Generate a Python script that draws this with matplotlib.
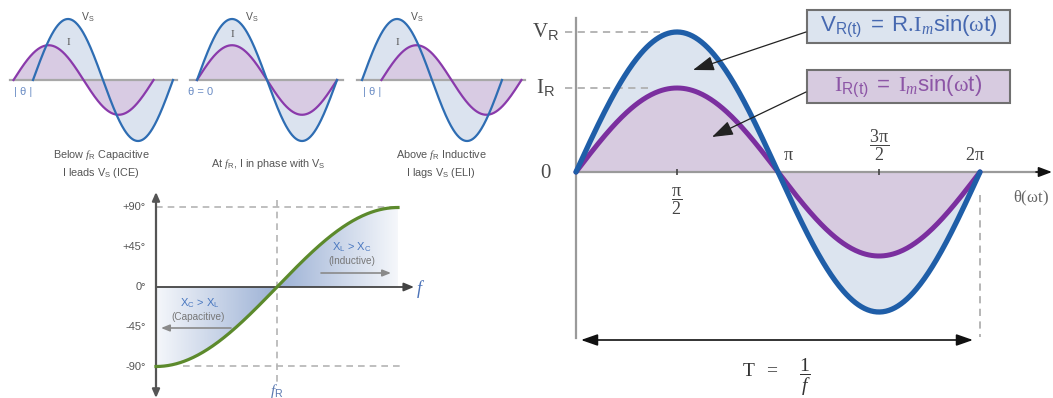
import numpy as np
import matplotlib
matplotlib.use('Agg')
import matplotlib.pyplot as plt
from matplotlib.patches import Rectangle
from matplotlib.colors import LinearSegmentedColormap

plt.rcParams['font.family'] = ['Liberation Sans', 'DejaVu Sans']
plt.rcParams['mathtext.fontset'] = 'custom'
plt.rcParams['mathtext.rm'] = 'Liberation Serif'
plt.rcParams['mathtext.it'] = 'Liberation Serif:italic'
plt.rcParams['mathtext.bf'] = 'Liberation Serif:bold'
plt.rcParams['mathtext.sf'] = 'Liberation Sans'
plt.rcParams['mathtext.fallback'] = 'stix'

W, H = 1053, 398

# pure resistance: V and I in phase, amplitudes relative to V_R
v_peak = 1.0
i_peak = 0.6
theta_ticks = [np.pi / 2, 3 * np.pi / 2]
theta_labels = [r'$\dfrac{\mathrm{\pi}}{\mathrm{2}}$', r'$\mathrm{\pi}$',
                r'$\dfrac{\mathrm{3\pi}}{\mathrm{2}}$', r'$\mathrm{2\pi}$']
theta_label_at = [np.pi / 2, np.pi, 3 * np.pi / 2, 2 * np.pi]

# series RLC below / at / above resonance: phase of I against V_S (deg, + = leads)
panel_phase = [50, 0, -50]
panel_v_amp = 1.0
panel_i_amp = 0.57
panel_theta_text = ['| θ |', 'θ = 0', '| θ |']
panel_captions = [
    'Below $\\mathit{f}_{\\mathsf{R}}$ Capacitive\nI leads V$_{\\mathsf{S}}$ (ICE)',
    'At $\\mathit{f}_{\\mathsf{R}}$, I in phase with V$_{\\mathsf{S}}$',
    'Above $\\mathit{f}_{\\mathsf{R}}$ Inductive\nI lags V$_{\\mathsf{S}}$ (ELI)',
]

# phase angle against frequency
phase_ticks = [90, 45, 0, -45, -90]
phase_tick_labels = ['+90°', '+45°', '0°', '-45°', '-90°']

V_LINE, V_FILL = '#1f5ea8', '#dce4ef'
I_LINE, I_FILL = '#7b2f9f', '#d7cbe0'
GREY = '#9a9a9a'

fig = plt.figure(figsize=(W / 100, H / 100), dpi=100)


def place(rect, ox, oy, sx, sy):
    """Axes over a pixel rectangle; (ox, oy) pixel of the data origin."""
    x0, y0, x1, y1 = rect
    ax = fig.add_axes([x0 / W, 1 - y1 / H, (x1 - x0) / W, (y1 - y0) / H])
    ax.set_axis_off()
    ax.set_xlim((x0 - ox) / sx, (x1 - ox) / sx)
    ax.set_ylim((oy - y1) / sy, (oy - y0) / sy)
    return ax, (lambda px, py: ((px - ox) / sx, (oy - py) / sy))


# ---------------- main waveform ----------------
ax, P = place((530, 0, 1053, 398), 576, 172, 404 / (2 * np.pi), 140)
th = np.linspace(0, 2 * np.pi, 400)
v = v_peak * np.sin(th)
i = i_peak * np.sin(th)
ax.fill_between(th, v, 0, color=V_FILL, lw=0, zorder=1)
ax.fill_between(th, i, 0, color=I_FILL, lw=0, zorder=1.5)
ax.plot(th, i, color=I_LINE, lw=3.6, solid_capstyle='round', zorder=4)
ax.plot(th, v, color=V_LINE, lw=3.8, solid_capstyle='round', zorder=5)

# axes
ax.plot([0, 0], [P(0, 18)[1], P(0, 338)[1]], color=GREY, lw=1.6, zorder=2)
ax.plot([0, P(1040, 0)[0]], [0, 0], color=GREY, lw=1.6, zorder=2)
ax.annotate('', xy=(P(1052, 0)[0], 0), xytext=(P(1036, 0)[0], 0),
            arrowprops=dict(arrowstyle='-|>,head_length=0.8,head_width=0.3',
                            color='#111', lw=1.2, shrinkA=0, shrinkB=0),
            annotation_clip=False)
ax.plot(theta_ticks, [0] * len(theta_ticks), ls='none', marker='|', ms=5,
        mew=1.2, color='#444', zorder=3)

# peak markers
ax.plot([P(565, 0)[0], P(660, 0)[0]], [v_peak, v_peak], color='#b0b0b0',
        lw=1.3, ls=(0, (4, 3)), zorder=2)
ax.plot([P(565, 0)[0], P(648, 0)[0]], [i_peak, i_peak], color='#b0b0b0',
        lw=1.3, ls=(0, (4, 3)), zorder=2)
lx = P(546, 0)[0]
ax.text(lx, v_peak, r'$\mathrm{V}_{\mathsf{R}}$', fontsize=15, color='#4a4a4a',
        ha='center', va='center')
ax.text(lx, i_peak, r'$\mathrm{I}_{\mathsf{R}}$', fontsize=15, color='#4a4a4a',
        ha='center', va='center')
ax.text(lx, 0, r'$\mathrm{0}$', fontsize=15, color='#4a4a4a',
        ha='center', va='center')

# theta labels
lab_dx = [0, 0.17, 0, -0.08]
lab_y = [-0.205, 0.115, 0.195, 0.12]
for t, s, dx, y in zip(theta_label_at, theta_labels, lab_dx, lab_y):
    ax.text(t + dx, y, s, fontsize=13, color='#444', ha='center', va='center')
ax.text(*P(1031, 198), r'$\mathrm{\theta(\omega t)}$', fontsize=12,
        color='#666', ha='center', va='center')

# period
ax.plot([2 * np.pi, 2 * np.pi], [P(0, 195)[1], P(0, 337)[1]], color='#b0b0b0',
        lw=1.3, ls=(0, (4, 3)), zorder=2)
ax.annotate('', xy=P(973, 340), xytext=P(581, 340),
            arrowprops=dict(arrowstyle='<|-|>,head_length=1.0,head_width=0.35',
                            color='#111', lw=1.2, shrinkA=0, shrinkB=0))
ax.text(*P(760, 372), r'$\mathrm{T\ \ =}$', fontsize=14, color='#333',
        ha='center', va='center')
ax.text(*P(805, 377), r'$\dfrac{\mathrm{1}}{f}$', fontsize=14, color='#333',
        ha='center', va='center')

# equation boxes
bx0, bx1 = P(807, 0)[0], P(1010, 0)[0]
for top, bot, fill, tcol, s in [
        (10, 43, V_FILL, '#4668b0',
         r'$\mathsf{V}_{\mathsf{R(t)}}\ \mathsf{=}\ \mathsf{R}.\!\mathrm{I}_{\mathit{m}}'
         r'\mathsf{sin(}\mathrm{\omega}\mathsf{t)}$'),
        (70, 103, I_FILL, '#8c55a6',
         r'$\mathrm{I}_{\mathsf{R(t)}}\ \mathsf{=}\ \mathrm{I}_{\mathit{m}}'
         r'\mathsf{sin(}\mathrm{\omega}\mathsf{t)}$')]:
    y0, y1 = P(0, bot)[1], P(0, top)[1]
    ax.add_patch(Rectangle((bx0, y0), bx1 - bx0, y1 - y0, facecolor=fill,
                           edgecolor='#707070', lw=1.5, zorder=6))
    ax.text((bx0 + bx1) / 2, (y0 + y1) / 2, s, fontsize=16, color=tcol,
            ha='center', va='center', zorder=7)

for start, end in [((806, 32), (693, 70)), ((806, 92), (712, 137))]:
    ax.annotate('', xy=P(*end), xytext=P(*start),
                arrowprops=dict(arrowstyle='-|>,head_length=1.3,head_width=0.45',
                                color='#222', lw=0.9, shrinkA=0, shrinkB=0),
                zorder=8)

# ---------------- three phase panels ----------------
panel_rect = [(0, 0, 180, 185), (178, 0, 350, 185), (348, 0, 530, 185)]
panel_origin = [33, 197, 362]
panel_axis = [(10, 177), (190, 343), (357, 525)]
panel_i_label_y = [0.61, 0.74, 0.61]
panel_theta_x = [None, 0.18, None]
panel_caption_x = [101, 268, 441]

for k in range(3):
    ox = panel_origin[k]
    pax, Q = place(panel_rect[k], ox, 80, 140 / (2 * np.pi), 61)
    phi = np.radians(panel_phase[k])
    tv = np.linspace(0, 2 * np.pi, 300)
    ti = np.linspace(-phi, 2 * np.pi - phi, 300)
    vv = panel_v_amp * np.sin(tv)
    ii = panel_i_amp * np.sin(ti + phi)
    pax.fill_between(tv, vv, 0, color='#dbe3ef', lw=0, zorder=1)
    pax.fill_between(ti, ii, 0, color='#d8cbe3', lw=0, zorder=1.5)
    a0, a1 = panel_axis[k]
    pax.plot([Q(a0, 0)[0], Q(a1, 0)[0]], [0, 0], color='#a8a8a8', lw=1.6,
             zorder=2)
    pax.plot(ti, ii, color='#8a3aab', lw=1.6, zorder=3)
    pax.plot(tv, vv, color='#2e6db3', lw=1.6, zorder=4)

    pax.text(np.pi / 2 + 0.9, 1.03, r'V$_{\mathsf{S}}$', fontsize=7.5,
             color='#555', ha='center', va='center')
    pax.text(np.pi / 2, panel_i_label_y[k], 'I', fontsize=8,
             family='Liberation Serif', color='#555', ha='center', va='center')
    tx = -phi / 2 if panel_theta_x[k] is None else panel_theta_x[k]
    pax.text(tx, -0.2, panel_theta_text[k], fontsize=8, color='#6a8cc4',
             ha='center', va='center')
    pax.text(Q(panel_caption_x[k], 0)[0], Q(0, 164)[1], panel_captions[k],
             fontsize=7.8, color='#555', ha='center', va='center',
             linespacing=1.3)

# ---------------- phase response ----------------
bax, R = place((100, 190, 440, 398), 277, 287, 121, 79.5 / 90)
t = np.linspace(-1, 1, 300)
phase = 90 * np.sin(np.pi / 2 * t)

shade = LinearSegmentedColormap.from_list('shade', ['#ffffff', '#9cb1d5'])
for sel, ext in [(t >= 0, (0, 1, 0, 90)), (t <= 0, (-1, 0, -90, 0))]:
    poly = bax.fill_between(t[sel], phase[sel], 0, facecolor='none',
                            edgecolor='none')
    g = np.linspace(ext[0], ext[1], 200)
    img = bax.imshow(np.tile(1 - np.abs(g), (2, 1)) * 0.9 + 0.1, cmap=shade,
                     vmin=0, vmax=1, extent=ext, aspect='auto',
                     origin='lower', zorder=1)
    img.set_clip_path(poly.get_paths()[0], transform=bax.transData)

bax.set_xlim(R(100, 0)[0], R(440, 0)[0])
bax.set_ylim(R(0, 398)[1], R(0, 190)[1])

dash = dict(color='#b4b4b4', lw=1.2, ls=(0, (4, 3)), zorder=2)
bax.plot([-1, 1], [90, 90], **dash)
bax.plot([R(183, 0)[0], R(403, 0)[0]], [-90, -90], **dash)
bax.plot([0, 0], [R(0, 200)[1], R(0, 383)[1]], **dash)

bax.annotate('', xy=(R(414, 0)[0], 0), xytext=(-1, 0),
             arrowprops=dict(arrowstyle='-|>,head_length=0.6,head_width=0.25',
                             color='#444', lw=1.3, shrinkA=0, shrinkB=0),
             zorder=3)
bax.annotate('', xy=(-1, R(0, 192)[1]), xytext=(-1, R(0, 398)[1]),
             arrowprops=dict(arrowstyle='<|-|>,head_length=0.5,head_width=0.22',
                             color='#555', lw=1.6, shrinkA=0, shrinkB=0),
             zorder=3)
bax.plot(t, phase, color='#5c8a2c', lw=2.3, zorder=4)

for val, lab in zip(phase_ticks, phase_tick_labels):
    bax.text(R(146, 0)[0], val, lab, fontsize=8, color='#555', ha='right',
             va='center')
bax.text(*R(421, 289), r'$f$', fontsize=13, color='#4b72b8', ha='center',
         va='center')
bax.text(*R(277, 391), r'$f_{\mathsf{R}}$', fontsize=11, color='#5a78b0',
         ha='center', va='center')

bax.text(*R(200, 303), r'X$_{\mathsf{C}}$ > X$_{\mathsf{L}}$', fontsize=8,
         color='#4a78c0', ha='center', va='center', zorder=5)
bax.text(*R(198, 317), '(Capacitive)', fontsize=7.2, color='#777',
         ha='center', va='center', zorder=5)
bax.annotate('', xy=R(161, 328), xytext=R(231, 328),
             arrowprops=dict(arrowstyle='-|>,head_length=0.5,head_width=0.2',
                             color='#8a8a8a', lw=1.2, shrinkA=0, shrinkB=0),
             zorder=5)
bax.text(*R(352, 247), r'X$_{\mathsf{L}}$ > X$_{\mathsf{C}}$', fontsize=8,
         color='#4a78c0', ha='center', va='center', zorder=5)
bax.text(*R(352, 261), '(Inductive)', fontsize=7.2, color='#777',
         ha='center', va='center', zorder=5)
bax.annotate('', xy=R(391, 273), xytext=R(321, 273),
             arrowprops=dict(arrowstyle='-|>,head_length=0.5,head_width=0.2',
                             color='#8a8a8a', lw=1.2, shrinkA=0, shrinkB=0),
             zorder=5)

fig.savefig('out.png', dpi=100, facecolor='white')
